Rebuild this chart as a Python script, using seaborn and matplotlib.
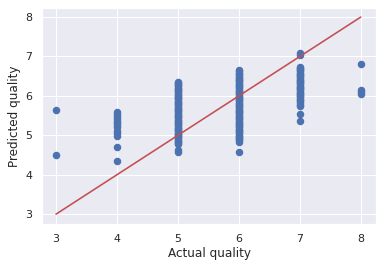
import matplotlib
matplotlib.use("Agg")
import matplotlib.pyplot as plt
import seaborn as sns
import numpy as np
import pandas as pd

sns.set_theme(style="darkgrid", color_codes=True)

# predicted values per actual quality
pred_q3 = [5.65, 4.50]
pred_q4 = [5.60, 5.55, 5.50, 5.45, 5.40, 5.35, 5.30, 5.25, 5.20, 5.12, 5.05, 4.98, 4.70, 4.35]
pred_q5 = [6.36, 6.33, 6.30, 6.27, 6.24, 6.21, 6.18, 6.15, 6.12, 6.09, 6.06, 6.03, 6.00,
           5.97, 5.94, 5.91, 5.88, 5.85, 5.82, 5.79, 5.76, 5.73, 5.70, 5.67, 5.64, 5.61,
           5.58, 5.55, 5.52, 5.49, 5.46, 5.43, 5.40, 5.37, 5.34, 5.31, 5.28, 5.25, 5.22,
           5.19, 5.16, 5.13, 5.10, 5.07, 5.04, 5.01, 4.98, 4.95, 4.92, 4.89, 4.86, 4.83,
           4.80, 4.78, 4.62, 4.57]
pred_q6 = [6.65, 6.62, 6.58, 6.55, 6.52, 6.49, 6.46, 6.43, 6.40, 6.37, 6.34, 6.31, 6.28,
           6.25, 6.22, 6.19, 6.16, 6.13, 6.10, 6.07, 6.04, 6.01, 5.98, 5.95, 5.92, 5.89,
           5.86, 5.83, 5.80, 5.77, 5.74, 5.71, 5.68, 5.65, 5.62, 5.59, 5.56, 5.53, 5.50,
           5.47, 5.44, 5.41, 5.38, 5.35, 5.32, 5.29, 5.26, 5.23, 5.20, 5.17, 5.14, 5.11,
           5.08, 5.05, 5.02, 4.99, 4.96, 4.93, 4.90, 4.87, 4.84, 4.57]
pred_q7 = [7.08, 7.03, 6.74, 6.71, 6.68, 6.65, 6.62, 6.59, 6.56, 6.53, 6.50, 6.47, 6.44,
           6.41, 6.38, 6.35, 6.32, 6.29, 6.26, 6.23, 6.20, 6.17, 6.14, 6.11, 6.08, 6.05,
           6.02, 5.99, 5.96, 5.93, 5.90, 5.86, 5.82, 5.78, 5.74, 5.54, 5.37]
pred_q8 = [6.82, 6.15, 6.10, 6.06]

qualities = [3, 4, 5, 6, 7, 8]
groups = [pred_q3, pred_q4, pred_q5, pred_q6, pred_q7, pred_q8]

actual = []
predicted = []
for q, g in zip(qualities, groups):
    actual += [q] * len(g)
    predicted += g
df = pd.DataFrame({"actual": actual, "predicted": predicted})

W, H, DPI = 382, 268, 72
fig = plt.figure(figsize=(W / DPI, H / DPI), dpi=DPI)
ax = fig.add_axes([42 / W, 1 - 224 / H, (376 - 42) / W, (224 - 8) / H])

blue = sns.color_palette("deep")[0]
ax.scatter(df["actual"], df["predicted"], s=36, color=blue, edgecolors="face", linewidths=1.5, zorder=2)
ax.plot(df["actual"], df["actual"], color="r", linewidth=1.6, zorder=3)

ax.set_xlabel("Actual quality", fontsize=12)
ax.set_ylabel("Predicted quality", fontsize=12)
ax.tick_params(labelsize=11)
ax.set_xlim(2.77, 8.25)
ax.set_ylim(2.75, 8.23)

fig.savefig("out.png", dpi=DPI)
